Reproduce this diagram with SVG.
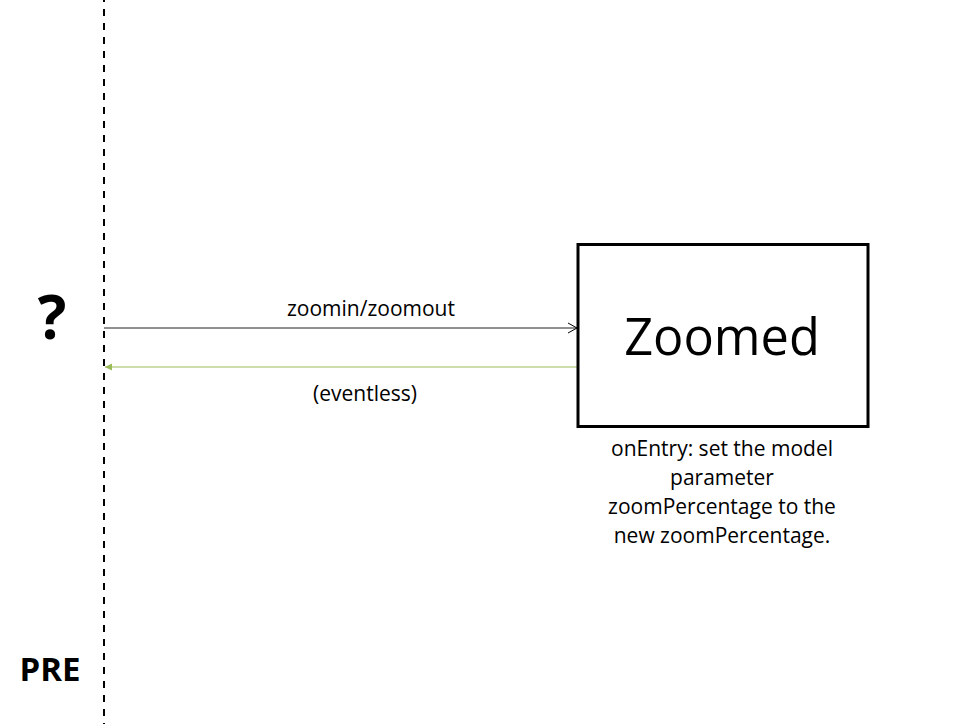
<svg xmlns="http://www.w3.org/2000/svg" width="963" height="724" viewBox="0 0 963 724">
  <style>
    text { font-family: "Open Sans", "Noto Sans", "Liberation Sans", sans-serif; fill: #000; }
    .lbl { font-size: 21px; text-anchor: middle; }
    .big { font-size: 50.5px; text-anchor: middle; }
    .bold { font-weight: bold; }
    .state { fill: #fff; stroke: #000; stroke-width: 3; }
  </style>
  <defs>
    <marker id="openArrow" markerWidth="12" markerHeight="12" refX="10" refY="6" orient="auto" markerUnits="userSpaceOnUse">
      <path d="M1,1 L10,6 L1,11" fill="none" stroke="#000" stroke-width="1"/>
    </marker>
    <marker id="greenArrow" markerWidth="10" markerHeight="10" refX="8" refY="5" orient="auto" markerUnits="userSpaceOnUse">
      <path d="M1,1.5 L8,5 L1,8.5 Z" fill="#9BBB59"/>
    </marker>
  </defs>

  <rect width="963" height="724" fill="#fff"/>

  <!-- timeline / precondition boundary -->
  <g id="boundary">
    <line x1="104" y1="-5" x2="104" y2="724" stroke="#000" stroke-width="2" stroke-dasharray="7 7"/>
    <text x="52" y="339" class="bold" font-size="60" text-anchor="middle">?</text>
    <text x="50" y="681" class="bold" font-size="33" text-anchor="middle">PRE</text>
  </g>

  <g id="connectors">
    <line x1="104" y1="328" x2="577" y2="328" stroke="#222" stroke-width="1" marker-end="url(#openArrow)"/>
    <text x="371" y="316" class="lbl">zoomin/zoomout</text>
    <line x1="577" y1="367" x2="105" y2="367" stroke="#9BBB59" stroke-width="1.2" marker-end="url(#greenArrow)"/>
    <text x="365" y="401" class="lbl">(eventless)</text>
  </g>

  <g id="zoomed">
    <rect x="578" y="244.5" width="290" height="182" class="state"/>
    <text x="722" y="355" class="big">Zoomed</text>
    <text x="722" y="456" class="lbl">onEntry: set the model</text>
    <text x="722" y="485" class="lbl">parameter</text>
    <text x="722" y="514" class="lbl">zoomPercentage to the</text>
    <text x="722" y="543" class="lbl">new zoomPercentage.</text>
  </g>
</svg>
